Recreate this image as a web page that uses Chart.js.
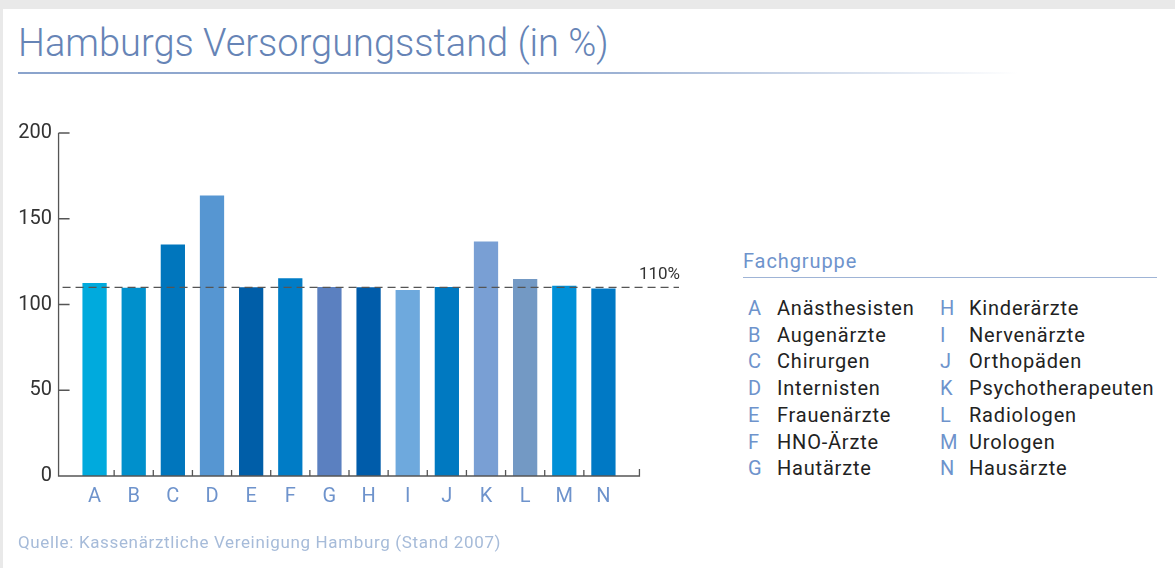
<!DOCTYPE html>
<html>
<head>
<meta charset="utf-8">
<script src="https://cdn.jsdelivr.net/npm/chart.js@4/dist/chart.umd.min.js"></script>
<style>
  html, body { margin: 0; padding: 0; }
  body { width: 1175px; height: 568px; background: #e9e9e9; position: relative; overflow: hidden; font-family: Roboto, "Noto Sans", sans-serif; }
  #blatt { position: absolute; left: 3px; top: 9px; right: 0; bottom: 0; background: #fff; }
  #titel { position: absolute; left: 18px; top: 21px; font-size: 38px; font-weight: 300; color: #6684b6; white-space: nowrap; }
  #titellinie { position: absolute; left: 18px; top: 72px; width: 1000px; height: 2px; background: linear-gradient(to right, #8aa3cc 0%, #9db2d4 60%, rgba(255,255,255,0) 100%); }
  #wrap { position: absolute; left: 0; top: 0; width: 700px; height: 540px; }
  #fg { position: absolute; left: 743px; top: 249px; font-size: 20px; letter-spacing: 0.9px; color: #6e93cc; }
  #fglinie { position: absolute; left: 743px; top: 277px; width: 414px; height: 1px; background: #9fb4d6; }
  .leg { position: absolute; font-size: 20px; letter-spacing: 0.8px; color: #222; white-space: nowrap; line-height: 26.7px; }
  .leg span { color: #6e93cc; display: inline-block; letter-spacing: 0; }
  #quelle { position: absolute; left: 18px; top: 532px; font-size: 17px; letter-spacing: 0.65px; color: #a6bbd9; white-space: nowrap; }
</style>
</head>
<body>
<div id="blatt"></div>
<div id="titel">Hamburgs Versorgungsstand (in %)</div>
<div id="titellinie"></div>
<div id="wrap"><canvas id="grafik"></canvas></div>
<div id="fg">Fachgruppe</div>
<div id="fglinie"></div>
<div id="leg1" class="leg"></div>
<div id="leg2" class="leg"></div>
<div id="quelle">Quelle: Kassenärztliche Vereinigung Hamburg (Stand 2007)</div>
<script>
var kuerzel = ['A','B','C','D','E','F','G','H','I','J','K','L','M','N']
var fachgruppen = ['Anästhesisten','Augenärzte','Chirurgen','Internisten','Frauenärzte','HNO-Ärzte','Hautärzte',
                   'Kinderärzte','Nervenärzte','Orthopäden','Psychotherapeuten','Radiologen','Urologen','Hausärzte']
var versorgung = [112.5, 109.7, 135, 163.5, 110, 115.3, 110.2, 110, 108.5, 110.2, 136.8, 114.8, 111, 109.3]
var farben = ['#00aadd','#0090cc','#0076bd','#5696d2','#005ea8','#007cc6','#5b80c0',
              '#005caa','#6ea9dd','#0079c1','#799fd4','#7399c4','#0090d7','#0079c5']
var y_ticks = [0, 50, 100, 150, 200]
var grenze = 110

// Legende (zwei Spalten)
function legende(id, von, bis, links) {
    var el = document.getElementById(id)
    el.style.left = links + 'px'
    el.style.top = '295px'
    var html = ''
    for (var i = von; i < bis; i++) {
        html += '<div><span style="width:29px">' + kuerzel[i] + '</span>' + fachgruppen[i] + '</div>'
    }
    el.innerHTML = html
}
legende('leg1', 0, 7, 748)
legende('leg2', 7, 14, 940)

var achsenPlugin = {
    id: 'achsen',
    afterDraw: function (chart) {
        var ctx = chart.ctx
        var x = chart.scales.x, y = chart.scales.y
        var ca = chart.chartArea
        var kat = (ca.right - ca.left) / kuerzel.length
        var links = ca.left - kat * 0.42
        var rechts = ca.right + kat * 0.42
        var null_y = y.getPixelForValue(0)
        ctx.save()
        ctx.strokeStyle = '#555'
        ctx.lineWidth = 1.3
        ctx.beginPath()
        ctx.moveTo(links, y.getPixelForValue(200))
        ctx.lineTo(links, null_y)
        ctx.lineTo(rechts, null_y)
        ctx.lineTo(rechts, null_y - 7)
        // y ticks nach innen
        y_ticks.forEach(function (t) {
            if (t == 0) return
            var py = y.getPixelForValue(t)
            ctx.moveTo(links, py)
            ctx.lineTo(links + 11, py)
        })
        // x ticks zwischen den Balken
        for (var i = 1; i < kuerzel.length; i++) {
            var px = (x.getPixelForValue(i - 1) + x.getPixelForValue(i)) / 2
            ctx.moveTo(px, null_y)
            ctx.lineTo(px, null_y - 6)
        }
        ctx.stroke()

        // 110% Linie
        var gy = y.getPixelForValue(grenze)
        ctx.setLineDash([8, 5])
        ctx.beginPath()
        ctx.moveTo(links + 4, gy)
        ctx.lineTo(ca.right + 56, gy)
        ctx.stroke()
        ctx.setLineDash([])
        ctx.fillStyle = '#333'
        ctx.font = '17px Roboto'
        ctx.textAlign = 'right'
        ctx.textBaseline = 'bottom'
        ctx.fillText(grenze + '%', ca.right + 57, gy - 4)
        ctx.restore()
    }
}

var contexto = document.getElementById('grafik').getContext('2d')
var grafico = new Chart(contexto, {
    type: 'bar',
    data: {
        labels: kuerzel,
        datasets: [{
            data: versorgung,
            backgroundColor: farben,
            barPercentage: 0.62,
            categoryPercentage: 1
        }]
    },
    options: {
        responsive: true,
        maintainAspectRatio: false,
        animation: false,
        layout: { padding: { left: 0, top: 133, right: 77, bottom: 30 } },
        plugins: { legend: { display: false }, tooltip: { enabled: false } },
        scales: {
            x: {
                grid: { display: false },
                border: { display: false },
                ticks: { color: '#6e93cc', font: { family: 'Roboto', size: 20 }, padding: 1 }
            },
            y: {
                min: 0,
                max: 200,
                afterBuildTicks: function (ax) { ax.ticks = y_ticks.map(function (v) { return { value: v } }) },
                afterFit: function (ax) { ax.width = 75 },
                grid: { display: false },
                border: { display: false },
                ticks: { color: '#333', font: { family: 'Roboto', size: 20 }, padding: 15 }
            }
        }
    },
    plugins: [achsenPlugin]
})
</script>
</body>
</html>
